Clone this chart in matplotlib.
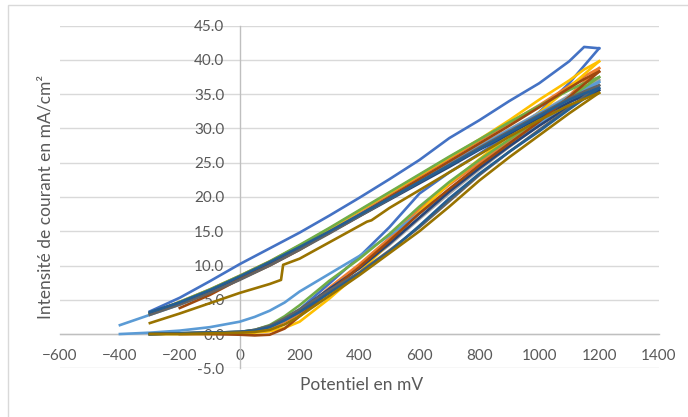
import numpy as np
import matplotlib
matplotlib.use("Agg")
import matplotlib.pyplot as plt
from matplotlib.patches import Rectangle

plt.rcParams['font.family'] = ['Lato', 'DejaVu Sans']

# potential grids (mV) for the forward and the reverse scans
fwd_x = [-400, -300, -200, -100, 0, 50, 100, 150, 200, 300, 400, 500, 600, 700, 800, 900, 1000, 1100, 1200]
rev_x = [1200, 1150, 1100, 1000, 900, 800, 700, 600, 500, 400, 300, 200, 100, 0, -100, -200, -300, -400]
nan = np.nan

# current density (mA/cm2)
blue_fwd = [nan, 0.1, 0.1, 0.2, 0.3, 0.6, 1.2, 2.3, 3.6, 7.4, 11.3, 15.6, 20.5, 23.6, 26.3, 29.2, 32.4, 36.6, 41.7]
blue_rev = [41.7, 41.9, 39.8, 36.6, 34.0, 31.2, 28.6, 25.4, 22.6, 19.9, 17.3, 14.8, 12.5, 10.2, 7.7, 5.3, 3.3, nan]

orange_fwd = [nan, 0.0, 0.1, 0.1, 0.2, 0.4, 0.8, 1.8, 3.0, 6.8, 10.2, 14.0, 18.2, 21.8, 25.0, 28.2, 31.3, 34.8, 38.8]
orange_rev = [38.8, 37.6, 36.2, 33.4, 30.8, 28.2, 25.6, 23.0, 20.4, 17.8, 15.3, 12.9, 10.6, 8.5, 6.5, 4.7, 3.0, nan]

gray_fwd = [nan, 0.0, 0.1, 0.1, 0.3, 0.5, 1.0, 2.0, 3.3, 6.5, 9.6, 13.0, 16.8, 20.5, 24.0, 27.3, 30.5, 33.8, 37.1]
gray_rev = [37.1, 36.0, 34.8, 32.3, 29.9, 27.5, 25.0, 22.5, 20.0, 17.5, 15.0, 12.6, 10.3, 8.2, 6.2, 4.5, 2.9, nan]

yellow_fwd = [nan, 0.0, 0.0, 0.0, 0.1, 0.2, 0.4, 0.9, 1.8, 5.2, 9.0, 13.3, 17.8, 22.0, 25.5, 29.0, 32.3, 36.0, 39.8]
yellow_rev = [39.8, 38.6, 37.0, 34.2, 31.2, 28.4, 25.8, 23.2, 20.6, 18.0, 15.4, 12.9, 10.5, 8.4, 6.4, 4.6, 2.9, nan]

lblue_fwd = [0.0, 0.2, 0.5, 1.0, 1.8, 2.5, 3.4, 4.6, 6.2, 8.8, 11.4, 14.4, 17.6, 21.0, 24.5, 27.8, 30.8, 33.8, 36.8]
lblue_rev = [36.8, 35.8, 34.6, 32.2, 29.8, 27.3, 24.8, 22.3, 19.8, 17.3, 14.8, 12.4, 10.1, 8.0, 6.0, 4.3, 2.8, 1.3]

green_fwd = [nan, 0.0, 0.1, 0.2, 0.3, 0.6, 1.3, 2.6, 4.2, 7.8, 11.0, 14.6, 18.6, 22.2, 25.4, 28.4, 31.4, 34.5, 37.5]
green_rev = [37.5, 36.6, 35.6, 33.3, 30.9, 28.4, 25.9, 23.3, 20.7, 18.1, 15.5, 13.0, 10.6, 8.5, 6.5, 4.7, 3.0, nan]

dblue_fwd = [nan, 0.0, 0.1, 0.2, 0.3, 0.5, 1.1, 2.2, 3.5, 6.6, 9.6, 13.2, 17.0, 20.8, 24.2, 27.4, 30.4, 33.2, 35.6]
dblue_rev = [35.6, 34.8, 33.8, 31.6, 29.2, 26.9, 24.4, 22.0, 19.6, 17.2, 14.8, 12.5, 10.3, 8.3, 6.3, 4.6, 3.1, nan]

brown_fwd = [nan, nan, 0.0, 0.0, -0.1, -0.2, -0.1, 0.8, 2.6, 6.2, 9.8, 13.6, 17.6, 21.2, 24.6, 27.8, 31.0, 34.6, 38.3]
brown_rev = [38.3, 37.2, 35.9, 33.1, 30.4, 27.8, 25.2, 22.6, 20.0, 17.4, 14.9, 12.3, 10.0, 8.0, 5.7, 3.8, nan, nan]

dgray_fwd = [nan, 0.0, 0.1, 0.2, 0.3, 0.6, 1.2, 2.3, 3.6, 6.4, 9.0, 12.2, 15.6, 19.4, 23.2, 26.6, 29.8, 33.0, 36.3]
dgray_rev = [36.3, 35.4, 34.4, 32.0, 29.6, 27.2, 24.7, 22.2, 19.7, 17.2, 14.7, 12.3, 10.0, 7.9, 6.0, 4.3, 2.8, nan]

mblue_fwd = [nan, 0.0, 0.1, 0.2, 0.3, 0.5, 1.0, 2.0, 3.2, 6.0, 8.8, 12.0, 15.8, 19.8, 23.4, 26.6, 29.6, 32.8, 35.9]
mblue_rev = [35.9, 35.1, 34.2, 31.8, 29.4, 27.0, 24.6, 22.2, 19.8, 17.4, 15.0, 12.7, 10.5, 8.4, 6.4, 4.6, 3.2, nan]

# olive curve has two small steps on the way back, so it gets its own grid
olive_fwd = [nan, 0.0, 0.0, 0.1, 0.2, 0.3, 0.6, 1.4, 2.6, 5.6, 8.6, 11.8, 15.0, 18.6, 22.4, 25.8, 29.0, 32.2, 35.2]
olive_rev_x = [1200, 1100, 1000, 900, 800, 700, 600, 500, 440, 425, 400, 300, 200, 145, 138, 100, 0, -100, -200, -300]
olive_rev = [35.2, 33.4, 31.2, 28.8, 26.2, 23.6, 21.0, 18.4, 16.6, 16.4, 15.8, 13.4, 11.0, 10.1, 7.9, 7.3, 6.0, 4.5, 3.0, 1.6]

fig = plt.figure(figsize=(6.88, 4.17), dpi=100)
fig.patches.append(Rectangle((8 / 688, -0.05), 1.1, 1 - 5 / 417 + 0.05, transform=fig.transFigure,
                             fill=False, edgecolor='#D9D9D9', linewidth=1.0))
ax = fig.add_axes([60 / 688, 1 - 368.3 / 417, 599 / 688, 342.6 / 417])

lw = 1.9
curves = [
    ('#4472C4', blue_fwd, blue_rev),
    ('#ED7D31', orange_fwd, orange_rev),
    ('#A5A5A5', gray_fwd, gray_rev),
    ('#FFC000', yellow_fwd, yellow_rev),
    ('#5B9BD5', lblue_fwd, lblue_rev),
    ('#70AD47', green_fwd, green_rev),
    ('#264478', dblue_fwd, dblue_rev),
    ('#9E480E', brown_fwd, brown_rev),
    ('#636363', dgray_fwd, dgray_rev),
    ('#255E91', mblue_fwd, mblue_rev),
]
for col, fy, ry in curves:
    ax.plot(fwd_x, fy, color=col, lw=lw, zorder=3)
    ax.plot(rev_x, ry, color=col, lw=lw, zorder=3)
ax.plot(fwd_x, olive_fwd, color='#997300', lw=lw, zorder=3)
ax.plot(olive_rev_x, olive_rev, color='#997300', lw=lw, zorder=3)

ax.set_xlim(-600, 1400)
ax.set_ylim(-5, 45)
ax.set_xticks(np.arange(-600, 1401, 200))
ax.set_yticks(np.arange(-5, 46, 5))
ax.set_yticklabels([f'{v:.1f}' for v in np.arange(-5, 46, 5)])
ax.yaxis.grid(True, color='#D9D9D9', linewidth=1.0, zorder=0)
ax.set_axisbelow(True)

for s in ['top', 'right']:
    ax.spines[s].set_visible(False)
ax.spines['left'].set_position(('data', 0))
ax.spines['bottom'].set_position(('data', 0))
for s in ['left', 'bottom']:
    ax.spines[s].set_color('#BFBFBF')
    ax.spines[s].set_linewidth(1.0)
    ax.spines[s].set_zorder(1)
ax.tick_params(axis='both', length=0, labelsize=11, labelcolor='#595959', pad=11)
ax.patch.set_visible(False)

fig.text(362 / 688, 1 - 385 / 417, 'Potentiel en mV', ha='center', va='center',
         fontsize=12.5, color='#595959')
fig.text(46 / 688, 1 - 197 / 417, 'Intensité de courant en mA/cm²', ha='center', va='center',
         rotation=90, fontsize=12.5, color='#595959')

fig.savefig('out.png', dpi=100)
